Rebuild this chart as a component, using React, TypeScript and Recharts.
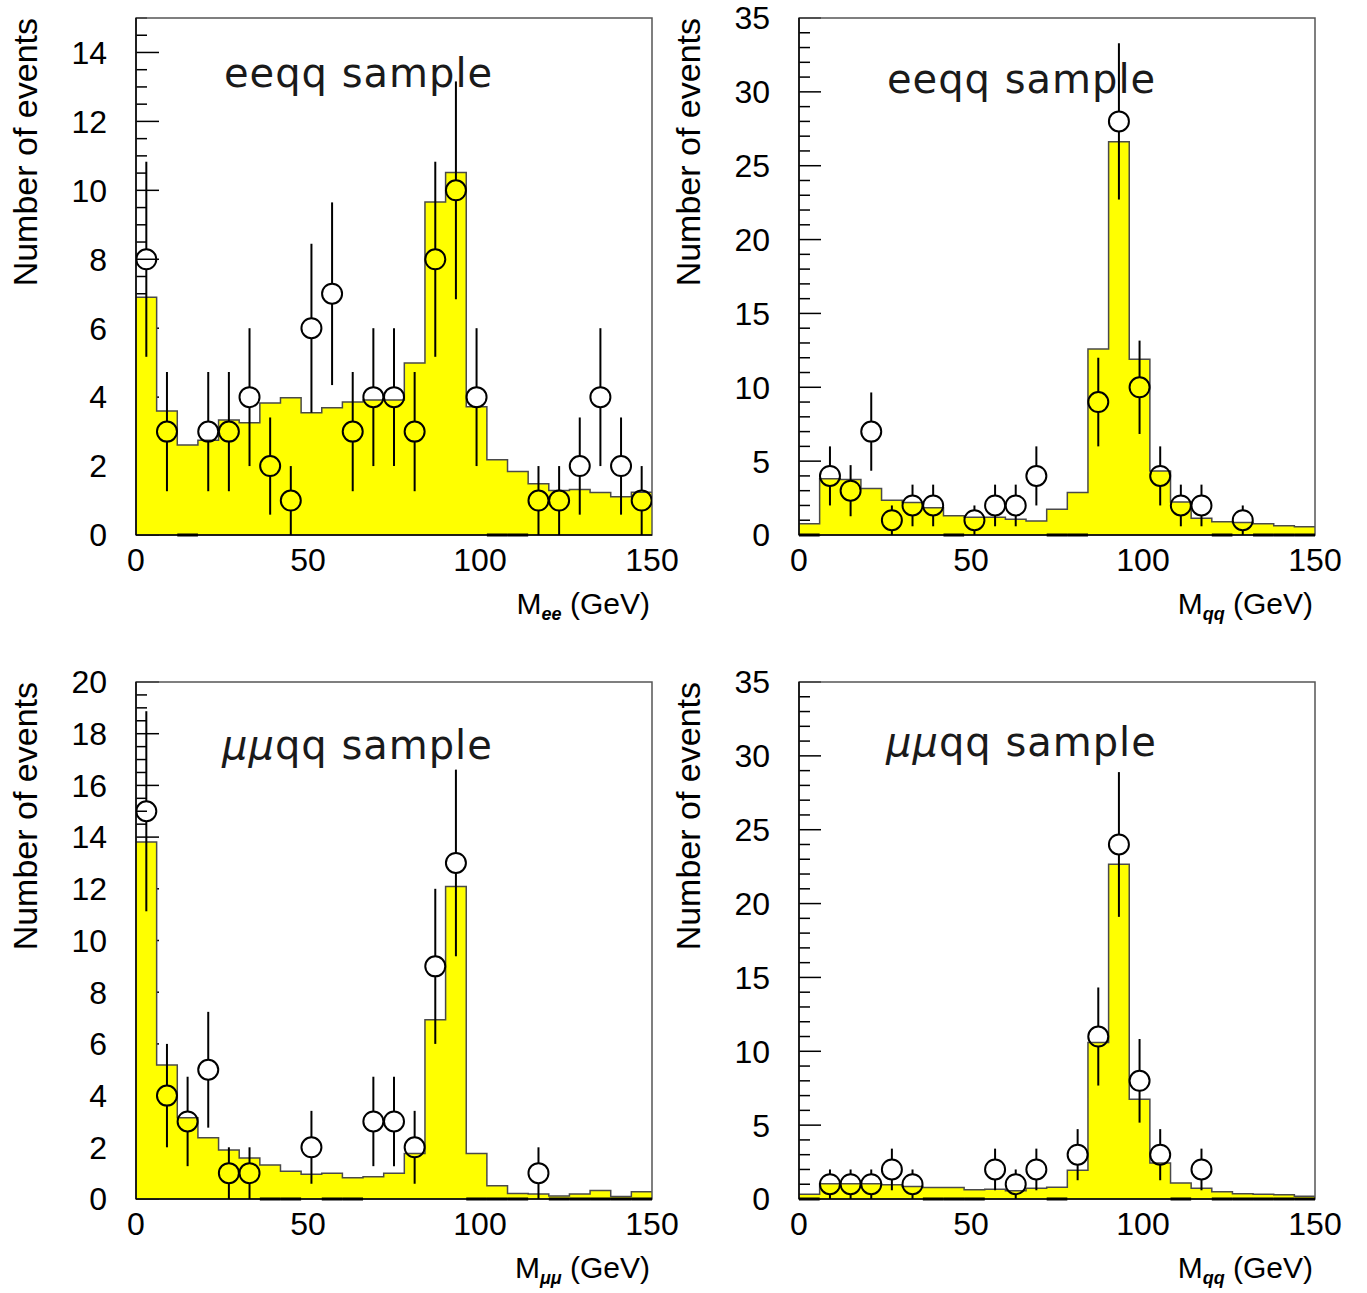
import React from 'react';
import { ComposedChart, Area, Scatter, XAxis, YAxis, CartesianGrid, ReferenceArea, ReferenceLine } from 'recharts';

// 6 GeV bins from 0 to 150
const binEdges = [0, 6, 12, 18, 24, 30, 36, 42, 48, 54, 60, 66, 72, 78, 84, 90, 96, 102, 108, 114, 120, 126, 132, 138, 144, 150];
const xTicks = [0, 50, 100, 150];

// eeqq sample, M_ee
const eeMassMc = [6.9, 3.6, 2.61, 2.75, 3.34, 3.26, 3.83, 3.98, 3.55, 3.69, 3.86, 3.92, 3.92, 4.99, 9.66, 10.52, 3.72, 2.18, 1.84, 1.49, 1.29, 1.32, 1.23, 1.11, 1.24];
const eeMassData = [8, 3, 0, 3, 3, 4, 2, 1, 6, 7, 3, 4, 4, 3, 8, 10, 4, 0, 0, 1, 1, 2, 4, 2, 1];
const eeMassErr = [2.83, 1.73, 0, 1.73, 1.73, 2, 1.41, 1, 2.45, 2.65, 1.73, 2, 2, 1.73, 2.83, 3.16, 2, 0, 0, 1, 1, 1.41, 2, 1.41, 1];

// eeqq sample, M_qq
const eeJetMc = [0.77, 3.8, 3.75, 3.15, 2.35, 2.2, 1.85, 1.31, 1.21, 1.21, 1.07, 0.94, 1.74, 2.88, 12.59, 26.63, 11.89, 4.33, 2.23, 1.14, 0.9, 0.85, 0.77, 0.63, 0.56];
const eeJetData = [0, 4, 3, 7, 1, 2, 2, 0, 1, 2, 2, 4, 0, 0, 9, 28, 10, 4, 2, 2, 0, 1, 0, 0, 0];
const eeJetErr = [0, 2, 1.73, 2.65, 1, 1.41, 1.41, 0, 1, 1.41, 1.41, 2, 0, 0, 3, 5.29, 3.16, 2, 1.41, 1.41, 0, 1, 0, 0, 0];

// mumuqq sample, M_mumu
const mmMassMc = [13.81, 5.18, 3.14, 2.37, 1.9, 1.59, 1.32, 1.07, 0.96, 1.0, 0.82, 0.86, 1.0, 1.76, 6.93, 12.09, 1.76, 0.51, 0.21, 0.19, 0.12, 0.19, 0.33, 0.1, 0.28];
const mmMassData = [15, 4, 3, 5, 1, 1, 0, 0, 2, 0, 0, 3, 3, 2, 9, 13, 0, 0, 0, 1, 0, 0, 0, 0, 0];
const mmMassErr = [3.87, 2, 1.73, 2.24, 1, 1, 0, 0, 1.41, 0, 0, 1.73, 1.73, 1.41, 3, 3.61, 0, 0, 0, 1, 0, 0, 0, 0, 0];

// mumuqq sample, M_qq
const mmJetMc = [0.32, 1.04, 1.04, 1.04, 0.97, 0.85, 0.78, 0.78, 0.63, 0.66, 0.56, 0.73, 0.8, 1.94, 10.6, 22.67, 6.75, 2.43, 1.09, 0.73, 0.49, 0.36, 0.32, 0.29, 0.19];
const mmJetData = [0, 1, 1, 1, 2, 1, 0, 0, 0, 2, 1, 2, 0, 3, 11, 24, 8, 3, 0, 2, 0, 0, 0, 0, 0];
const mmJetErr = [0, 1, 1, 1, 1.41, 1, 0, 0, 0, 1.41, 1, 1.41, 0, 1.73, 3.32, 4.9, 2.83, 1.73, 0, 1.41, 0, 0, 0, 0, 0];

const ticks15 = [0, 2, 4, 6, 8, 10, 12, 14];
const minor15 = [0.5, 1, 1.5, 2.5, 3, 3.5, 4.5, 5, 5.5, 6.5, 7, 7.5, 8.5, 9, 9.5, 10.5, 11, 11.5, 12.5, 13, 13.5, 14.5];
const ticks20 = [0, 2, 4, 6, 8, 10, 12, 14, 16, 18, 20];
const minor20 = [0.5, 1, 1.5, 2.5, 3, 3.5, 4.5, 5, 5.5, 6.5, 7, 7.5, 8.5, 9, 9.5, 10.5, 11, 11.5, 12.5, 13, 13.5, 14.5, 15, 15.5, 16.5, 17, 17.5, 18.5, 19, 19.5];
const ticks35 = [0, 5, 10, 15, 20, 25, 30, 35];
const minor35 = [1, 2, 3, 4, 6, 7, 8, 9, 11, 12, 13, 14, 16, 17, 18, 19, 21, 22, 23, 24, 26, 27, 28, 29, 31, 32, 33, 34];

const CHART_W = 683;
const CHART_H = 646;
const MARGIN = { top: 18, right: 31, left: 36, bottom: 71 };
const Y_AXIS_W = 100;
const X_AXIS_H = 40;
const PLOT_H = CHART_H - MARGIN.top - MARGIN.bottom - X_AXIS_H;

const FONT = '"Liberation Sans", Arial, sans-serif';
const TITLE_FONT = '"DejaVu Sans", sans-serif';

interface PanelProps {
  mc: number[];
  counts: number[];
  errs: number[];
  yMax: number;
  yTicks: number[];
  yMinor: number[];
  majorLen: number;
  left: number;
  top: number;
}

const Panel: React.FC<PanelProps> = ({ mc, counts, errs, yMax, yTicks, yMinor, majorLen, left, top }) => {
  const unit = PLOT_H / yMax;

  const histData = binEdges.map((x, i) => ({ x, v: mc[Math.min(i, mc.length - 1)] }));
  const points = counts
    .map((n, i) => ({ x: binEdges[i] + 3, y: n, err: errs[i] }))
    .filter((p) => p.y > 0);
  const zeroBins = counts.map((n, i) => i).filter((i) => counts[i] === 0);
  // all tick positions, majors get a label, minors only a short mark
  const allTicks = [...yTicks, ...yMinor].sort((a, b) => a - b);

  // tick marks drawn through the grid so that the histogram fill covers them
  const renderTickMark = (p: any) => {
    const v = allTicks[p.index];
    const len = yTicks.includes(v) ? majorLen : 11;
    return <line key={`t-${p.index}`} x1={p.x1} x2={p.x1 + len} y1={p.y1} y2={p.y1} stroke="#000" strokeWidth={1.5} />;
  };

  const renderPoint = (p: any) => {
    const r = 10;
    const e = p.payload.err * unit;
    return (
      <g>
        <circle cx={p.cx} cy={p.cy} r={r} fill="none" stroke="#000" strokeWidth={2} />
        {e > r && <line x1={p.cx} x2={p.cx} y1={p.cy - r} y2={p.cy - e} stroke="#000" strokeWidth={2} />}
        {e > r && <line x1={p.cx} x2={p.cx} y1={p.cy + r} y2={p.cy + e} stroke="#000" strokeWidth={2} />}
      </g>
    );
  };

  return (
    <div style={{ position: 'absolute', left, top }}>
      <ComposedChart width={CHART_W} height={CHART_H} margin={MARGIN}>
        <CartesianGrid vertical={false} horizontal={renderTickMark} />
        <XAxis
          type="number"
          dataKey="x"
          domain={[0, 150]}
          ticks={xTicks}
          interval={0}
          height={X_AXIS_H}
          tickLine={false}
          tickMargin={7}
          axisLine={{ stroke: '#000', strokeWidth: 1.5 }}
          tick={{ fontSize: 32, fill: '#000', fontFamily: FONT }}
          allowDataOverflow
        />
        <YAxis
          type="number"
          domain={[0, yMax]}
          ticks={allTicks}
          interval={0}
          width={Y_AXIS_W}
          tickLine={false}
          tickMargin={23}
          tickFormatter={(v: number) => (yTicks.includes(v) ? String(v) : '')}
          axisLine={{ stroke: '#000', strokeWidth: 1.5 }}
          tick={{ fontSize: 32, fill: '#000', fontFamily: FONT }}
          allowDataOverflow
        />
        <Area
          data={histData}
          dataKey="v"
          type="stepAfter"
          stroke="#4a4a4a"
          strokeWidth={1.5}
          fill="#ffff00"
          fillOpacity={1}
          isAnimationActive={false}
          dot={false}
          activeDot={false}
        />
        {zeroBins.map((i) => (
          <ReferenceLine
            key={i}
            segment={[{ x: binEdges[i], y: 0 }, { x: binEdges[i + 1], y: 0 }]}
            stroke="#000"
            strokeWidth={3}
          />
        ))}
        <Scatter data={points} dataKey="y" shape={renderPoint} isAnimationActive={false} />
        <ReferenceArea x1={0} x2={150} y1={0} y2={yMax} fill="none" stroke="#555" strokeWidth={1.5} />
      </ComposedChart>
    </div>
  );
};

const YTitle: React.FC<{ x: number; y: number }> = ({ x, y }) => (
  <text
    x={x}
    y={y}
    transform={`rotate(-90 ${x} ${y})`}
    textAnchor="end"
    fontSize={34}
    fontFamily={FONT}
    fill="#000"
  >
    Number of events
  </text>
);

const XTitle: React.FC<{ x: number; y: number; sub: string }> = ({ x, y, sub }) => (
  <text x={x} y={y} textAnchor="end" fontSize={30} fontFamily={FONT} fill="#000">
    M
    <tspan fontSize={18} fontStyle="italic" fontWeight="bold" dy={6}>
      {sub}
    </tspan>
    <tspan dy={-6}> (GeV)</tspan>
  </text>
);

const SampleTitle: React.FC<{ x: number; y: number; lepton: string; italic: boolean }> = ({ x, y, lepton, italic }) => (
  <text x={x} y={y} fontSize={40} fontFamily={TITLE_FONT} fill="#1a1a1a" letterSpacing={1}>
    <tspan fontStyle={italic ? 'italic' : 'normal'}>{lepton}</tspan>
    qq sample
  </text>
);

export default function App() {
  return (
    <div style={{ position: 'absolute', left: 0, top: 0, width: 1367, height: 1293, background: '#fff' }}>
      <Panel mc={eeMassMc} counts={eeMassData} errs={eeMassErr} yMax={15} yTicks={ticks15} yMinor={minor15} majorLen={23} left={0} top={0} />
      <Panel mc={eeJetMc} counts={eeJetData} errs={eeJetErr} yMax={35} yTicks={ticks35} yMinor={minor35} majorLen={22} left={663} top={0} />
      <Panel mc={mmMassMc} counts={mmMassData} errs={mmMassErr} yMax={20} yTicks={ticks20} yMinor={minor20} majorLen={23} left={0} top={664} />
      <Panel mc={mmJetMc} counts={mmJetData} errs={mmJetErr} yMax={35} yTicks={ticks35} yMinor={minor35} majorLen={22} left={663} top={664} />
      <svg width={1367} height={1293} style={{ position: 'absolute', left: 0, top: 0, pointerEvents: 'none' }}>
        <YTitle x={37} y={18} />
        <YTitle x={700} y={18} />
        <YTitle x={37} y={682} />
        <YTitle x={700} y={682} />
        <SampleTitle x={224} y={87} lepton="ee" italic={false} />
        <SampleTitle x={887} y={93} lepton="ee" italic={false} />
        <SampleTitle x={222} y={759} lepton="μμ" italic={true} />
        <SampleTitle x={886} y={756} lepton="μμ" italic={true} />
        <XTitle x={650} y={614} sub="ee" />
        <XTitle x={1313} y={614} sub="qq" />
        <XTitle x={650} y={1278} sub="μμ" />
        <XTitle x={1313} y={1278} sub="qq" />
      </svg>
    </div>
  );
}
